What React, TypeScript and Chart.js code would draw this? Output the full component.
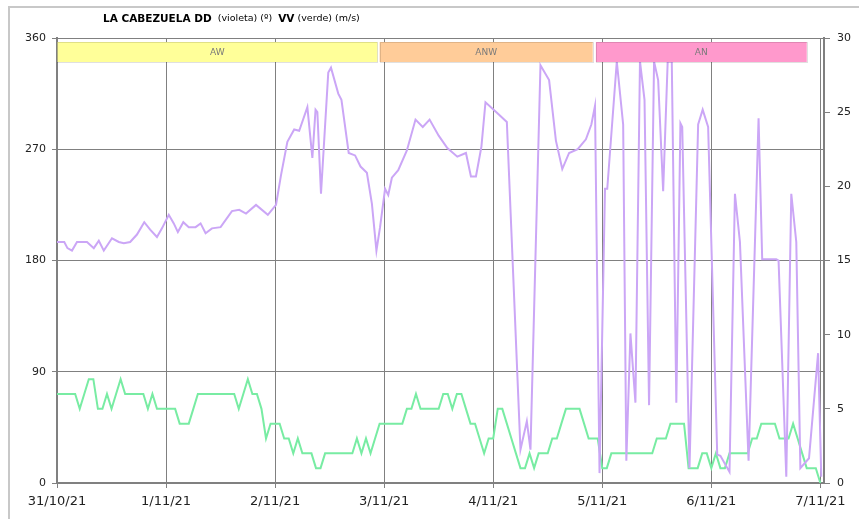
import React, { useEffect, useRef } from "react";
import { Chart, registerables } from "chart.js";

Chart.register(...registerables);

// ---- data ----
const dateLabels = ["31/10/21", "1/11/21", "2/11/21", "3/11/21", "4/11/21", "5/11/21", "6/11/21", "7/11/21"];

// DD (wind direction, º) : hours since 31/10/21 00:00 and values
const ddHours = [
  0, 1.6, 2.3, 3.3, 4.4, 6.6, 8.1, 9.2, 10.3, 12.1, 13.6, 14.7, 16.1, 17.6, 19.2, 20.5, 22.0, 23.1,
  24.6, 25.7, 26.6, 27.8, 29.0, 30.5, 31.6, 32.7, 34.1, 36.0, 38.5, 40.1, 41.6, 43.8, 46.4,
  48.2, 49.3, 50.7, 52.2, 53.3, 55.1, 56.2, 56.9, 57.3, 58.1, 59.7, 60.3, 61.9, 62.6, 64.2, 65.6, 66.8, 68.2, 69.3, 70.3,
  71.1, 72.2, 72.9, 73.7, 75.1, 77.0, 78.9, 80.5, 82.0, 84.0, 85.9, 88.1, 90.0, 91.1, 92.2, 93.4, 94.3,
  96.7, 99.0, 102.0, 103.4, 104.2, 106.4, 108.3, 109.8, 111.2, 112.7, 114.6, 116.4, 117.6, 118.4, 119.4,
  120.6, 121.1, 123.2, 124.6, 125.3, 126.2, 127.3, 128.3, 129.3, 130.3, 131.4, 132.3, 133.4, 134.4, 135.3,
  136.3, 137.2, 137.6, 139.2, 141.1, 142.1, 143.3, 145.3, 146.0, 148.0, 149.2, 150.3, 152.2, 154.4, 155.2,
  158.3, 158.8, 160.5, 161.6, 162.7, 163.6, 165.5, 167.5, 168.2,
];
const ddValues = [
  195, 195, 190, 188, 195, 195, 190, 196, 188, 198, 195, 194, 195, 201, 211, 205, 199, 206,
  217, 210, 203, 211, 207, 207, 210, 202, 206, 207, 220, 221, 218, 225, 217,
  225, 249, 276, 286, 285, 304, 263, 302, 300, 234, 332, 336, 315, 310, 267, 265, 256, 251, 226, 188,
  207, 238, 233, 247, 253, 269, 294, 288, 294, 281, 271, 264, 267, 248, 248, 272, 308,
  300, 292, 27, 50, 27, 338, 326, 277, 254, 267, 270, 278, 290, 305, 8,
  238, 238, 341, 290, 18, 121, 65, 341, 310, 63, 341, 326, 236, 341, 341,
  65, 291, 288, 12, 290, 302, 288, 23, 22, 9, 234, 195, 18, 295, 181,
  181, 180, 5, 234, 195, 12, 20, 105, 5,
];

// VV (wind speed, m/s) : one value per hour from 31/10/21 00:00
const vvHourly = [
  6, 6, 6, 6, 6, 5, 6, 7, 7, 5, 5, 6, 5, 6, 7, 6, 6, 6, 6, 6, 5, 6, 5, 5,
  5, 5, 5, 4, 4, 4, 5, 6, 6, 6, 6, 6, 6, 6, 6, 6, 5, 6, 7, 6, 6, 5, 3, 4,
  4, 4, 3, 3, 2, 3, 2, 2, 2, 1, 1, 2, 2, 2, 2, 2, 2, 2, 3, 2, 3, 2, 3, 4,
  4, 4, 4, 4, 4, 5, 5, 6, 5, 5, 5, 5, 5, 6, 6, 5, 6, 6, 5, 4, 4, 3, 2, 3,
  3, 5, 5, 4, 3, 2, 1, 1, 2, 1, 2, 2, 2, 3, 3, 4, 5, 5, 5, 5, 4, 3, 3, 3,
  1, 1, 2, 2, 2, 2, 2, 2, 2, 2, 2, 2, 3, 3, 3, 4, 4, 4, 4, 1, 1, 1, 2, 2,
  1, 2, 1, 1, 2, 2, 2, 2, 2, 3, 3, 4, 4, 4, 4, 3, 3, 3, 4, 3, 2, 1, 1, 1,
  0,
];

// wind-sector bands at the top of the plot
const bandNames = ["AW", "ANW", "AN"];
const bandStartHours = [0.1, 71.0, 118.6];
const bandEndHours = [70.5, 117.9, 165.0];

const titleParts = [
  { text: "LA CABEZUELA DD", bold: true },
  { text: "  (violeta) (º)  ", bold: false },
  { text: "VV", bold: true },
  { text: " (verde) (m/s)", bold: false },
];

// ---- styles ----
const FONT = "'DejaVu Sans', Verdana, sans-serif";
const bandFill = ["#ffff99", "#ffcc99", "#ff99cc"];
const GRID = "#808080";

const bandsPlugin = {
  id: "bands",
  afterDatasetsDraw(chart: any) {
    const { ctx, chartArea } = chart;
    const xs = chart.scales.x;
    ctx.save();
    bandNames.forEach((name, i) => {
      const x0 = xs.getPixelForValue(bandStartHours[i]);
      const x1 = xs.getPixelForValue(bandEndHours[i]);
      const y0 = chartArea.top + 4;
      const h = 20;
      ctx.fillStyle = bandFill[i];
      ctx.fillRect(x0, y0, x1 - x0, h);
      ctx.strokeStyle = "rgba(0,0,0,0.12)";
      ctx.lineWidth = 1;
      ctx.strokeRect(Math.round(x0) + 0.5, Math.round(y0) + 0.5, Math.round(x1 - x0), h);
      ctx.fillStyle = "#7a7a7a";
      ctx.font = `9px ${FONT}`;
      ctx.textAlign = "center";
      ctx.textBaseline = "middle";
      ctx.fillText(name, (x0 + x1) / 2, y0 + h / 2 + 1);
    });
    ctx.restore();
  },
};

const decorPlugin = {
  id: "decor",
  beforeDraw(chart: any) {
    const { ctx } = chart;
    ctx.save();
    ctx.fillStyle = "#ffffff";
    ctx.fillRect(0, 0, chart.width, chart.height);
    ctx.strokeStyle = "#c8c8c8";
    ctx.lineWidth = 2;
    ctx.beginPath();
    ctx.moveTo(9, chart.height);
    ctx.lineTo(9, 7);
    ctx.lineTo(chart.width, 7);
    ctx.stroke();
    ctx.restore();
  },
  afterDraw(chart: any) {
    const { ctx } = chart;
    ctx.save();
    ctx.textBaseline = "middle";
    ctx.textAlign = "left";
    ctx.fillStyle = "#000";
    let x = 103;
    titleParts.forEach((p) => {
      ctx.font = p.bold ? `bold 10.5px ${FONT}` : `9.5px ${FONT}`;
      ctx.fillText(p.text, x, 19);
      x += ctx.measureText(p.text).width;
    });
    ctx.restore();
  },
};

export default function App() {
  const ref = useRef<HTMLCanvasElement | null>(null);

  useEffect(() => {
    if (!ref.current) return;
    const ddPoints = ddHours.map((h, i) => ({ x: h, y: ddValues[i] }));
    const vvPoints = vvHourly.map((v, i) => ({ x: i, y: v }));
    const chart = new Chart(ref.current, {
      type: "line",
      data: {
        datasets: [
          {
            label: "DD",
            data: ddPoints,
            yAxisID: "y",
            borderColor: "#cba6f6",
            borderWidth: 2,
            pointRadius: 0,
            tension: 0,
          },
          {
            label: "VV",
            data: vvPoints,
            yAxisID: "y1",
            borderColor: "#78eca3",
            borderWidth: 2,
            pointRadius: 0,
            tension: 0,
          },
        ],
      },
      options: {
        animation: false,
        responsive: false,
        maintainAspectRatio: false,
        layout: { padding: { top: 38, left: 0, right: 0, bottom: 0 } },
        plugins: {
          legend: { display: false },
          title: { display: false },
          tooltip: { enabled: false },
        },
        scales: {
          x: {
            type: "linear",
            min: 0,
            max: 168.8,
            afterBuildTicks: (s: any) => {
              s.ticks = dateLabels.map((_, i) => ({ value: i * 24 }));
            },
            afterFit: (s: any) => {
              s.height = 36;
            },
            ticks: {
              autoSkip: false,
              maxRotation: 0,
              padding: 6,
              color: "#222",
              font: { family: FONT, size: 13 },
              callback: (v: any) => dateLabels[Math.round(Number(v) / 24)] ?? "",
            },
            grid: { color: GRID, tickLength: 5, lineWidth: 1 },
            border: { color: GRID, width: 2 },
          },
          y: {
            position: "left",
            min: 0,
            max: 360,
            afterFit: (s: any) => {
              s.width = 57;
            },
            ticks: {
              stepSize: 90,
              padding: 6,
              color: "#222",
              font: { family: FONT, size: 11 },
            },
            grid: { color: GRID, tickLength: 5, lineWidth: 1 },
            border: { color: GRID, width: 2 },
          },
          y1: {
            position: "right",
            min: 0,
            max: 30,
            afterFit: (s: any) => {
              s.width = 35;
            },
            ticks: {
              stepSize: 5,
              padding: 7,
              color: "#222",
              font: { family: FONT, size: 11 },
            },
            grid: { drawOnChartArea: false, color: GRID, tickLength: 6 },
            border: { color: GRID, width: 2 },
          },
        },
      },
      plugins: [decorPlugin, bandsPlugin],
    } as any);
    return () => chart.destroy();
  }, []);

  return (
    <div style={{ position: "absolute", left: 0, top: 0, width: 859, height: 519 }}>
      <canvas ref={ref} width={859} height={519} style={{ display: "block", width: 859, height: 519 }} />
    </div>
  );
}
